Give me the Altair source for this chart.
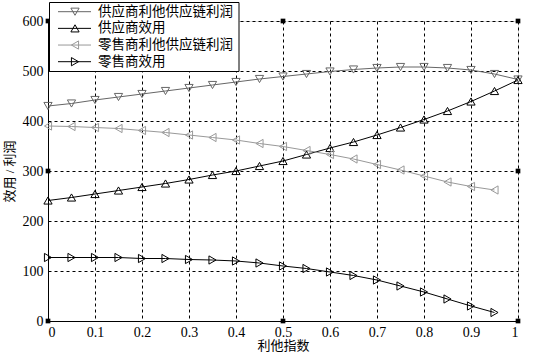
import altair as alt
import pandas as pd

# ---- data ----
names = ["供应商利他供应链利润", "供应商效用", "零售商利他供应链利润", "零售商效用"]
x_sup = [0, 0.05, 0.1, 0.15, 0.2, 0.25, 0.3, 0.35, 0.4, 0.45, 0.5,
         0.55, 0.6, 0.65, 0.7, 0.75, 0.8, 0.85, 0.9, 0.95, 1.0]
x_ret = x_sup[:-1]
sup_other = [430, 435, 442, 448, 454, 460, 466, 472, 478, 484, 489,
             494, 499, 503, 506, 508, 508, 506, 502, 494, 483]
sup_util = [241, 247, 254, 261, 268, 275, 283, 292, 300, 310, 320,
            333, 346, 358, 372, 387, 403, 420, 439, 460, 482]
ret_other = [390, 389, 387, 385, 381, 377, 372, 367, 362, 355, 349,
             341, 333, 324, 313, 302, 290, 278, 269, 262]
ret_util = [127, 127, 127, 127, 125, 125, 123, 122, 120, 116, 110,
            105, 98, 91, 82, 70, 58, 44, 30, 17]
sq_x = [0, 0.5, 1, 0, 1, 0, 0.5, 1]
sq_y = [600, 600, 600, 300, 300, 0, 0, 0]
x_ticks = [0, 0.1, 0.2, 0.3, 0.4, 0.5, 0.6, 0.7, 0.8, 0.9, 1]
y_ticks = [0, 100, 200, 300, 400, 500, 600]

rows = []
for xs, ys, n in [(x_sup, sup_other, names[0]), (x_sup, sup_util, names[1]),
                  (x_ret, ret_other, names[2]), (x_ret, ret_util, names[3])]:
    for a, b in zip(xs, ys):
        rows.append({"x": a, "v": b, "series": n})
df = pd.DataFrame(rows)
sq_df = pd.DataFrame({"x": sq_x, "v": sq_y})
leg_df = pd.DataFrame({"series": names, "row": list(range(len(names)))})

FONT = "Liberation Serif, Noto Sans CJK SC"
colors = ["#666666", "#000000", "#999999", "#000000"]
shapes = ["triangle-down", "triangle-up", "triangle-left", "triangle-right"]
color = alt.Color("series:N", scale=alt.Scale(domain=names, range=colors), legend=None)
shape = alt.Shape("series:N", scale=alt.Scale(domain=names, range=shapes), legend=None)

xenc = alt.X("x:Q", scale=alt.Scale(domain=[0, 1], nice=False),
             axis=alt.Axis(values=x_ticks, title="利他指数", format="~g",
                           grid=True, gridDash=[3, 3], gridColor="#000000",
                           gridOpacity=1, ticks=False, labelPadding=4,
                           domainColor="#000000", titlePadding=0,
                           labelFontSize=14, titleFontSize=13,
                           labelFont=FONT, titleFont=FONT, labelColor="#000",
                           titleColor="#000", titleFontWeight="normal"))
yenc = alt.Y("v:Q", scale=alt.Scale(domain=[0, 600], nice=False),
             axis=alt.Axis(values=y_ticks, title="效用 / 利润",
                           grid=True, gridDash=[3, 3], gridColor="#000000",
                           gridOpacity=1, ticks=False, labelPadding=5,
                           domainColor="#000000", titlePadding=6,
                           labelFontSize=14, titleFontSize=13,
                           labelFont=FONT, titleFont=FONT, labelColor="#000",
                           titleColor="#000", titleFontWeight="normal"))

base = alt.Chart(df)
lines = base.mark_line(strokeWidth=1).encode(x=xenc, y=yenc, color=color, detail="series:N")
pts = base.mark_point(filled=False, size=68, strokeWidth=1, opacity=1).encode(
    x=alt.X("x:Q"), y=alt.Y("v:Q"), color=color, shape=shape)
squares = alt.Chart(sq_df).mark_point(shape="square", filled=True, size=22,
                                      color="#000", opacity=1).encode(
    x=alt.X("x:Q"), y=alt.Y("v:Q"))
main = alt.layer(lines, pts, squares)

rowy = alt.Y("row:Q", scale=alt.Scale(domain=[0, 3], range=[-9.3, 40.7]), axis=None)
box = alt.Chart(pd.DataFrame({"a": [0]})).mark_rect(
    fill="#ffffff", stroke="#000000", strokeWidth=1).encode(
    x=alt.value(1.5), x2=alt.value(191), y=alt.value(-18.5), y2=alt.value(50.5))
leg_lines = alt.Chart(leg_df).mark_rule(strokeWidth=1).encode(
    x=alt.value(10), x2=alt.value(43), y=rowy, color=color)
leg_pts = alt.Chart(leg_df).mark_point(filled=False, size=68, strokeWidth=1, opacity=1).encode(
    x=alt.value(27), y=rowy, color=color, shape=shape)
leg_txt = alt.Chart(leg_df).mark_text(align="left", baseline="middle", fontSize=13.5,
                                      font="Noto Sans CJK SC", color="#000").encode(
    x=alt.value(50), y=rowy, text="series:N")
legend = alt.layer(box, leg_lines, leg_pts, leg_txt)

chart = alt.layer(main, legend).resolve_scale(y="independent").properties(
    width=470, height=300,
    autosize=alt.AutoSizeParams(type="none"),
    padding={"left": 48, "top": 21, "right": 21, "bottom": 33},
).configure_view(stroke="#808080", strokeWidth=1.5).configure(background="#ffffff")

chart.save("out.html", embed_options={"renderer": "svg", "actions": False})
